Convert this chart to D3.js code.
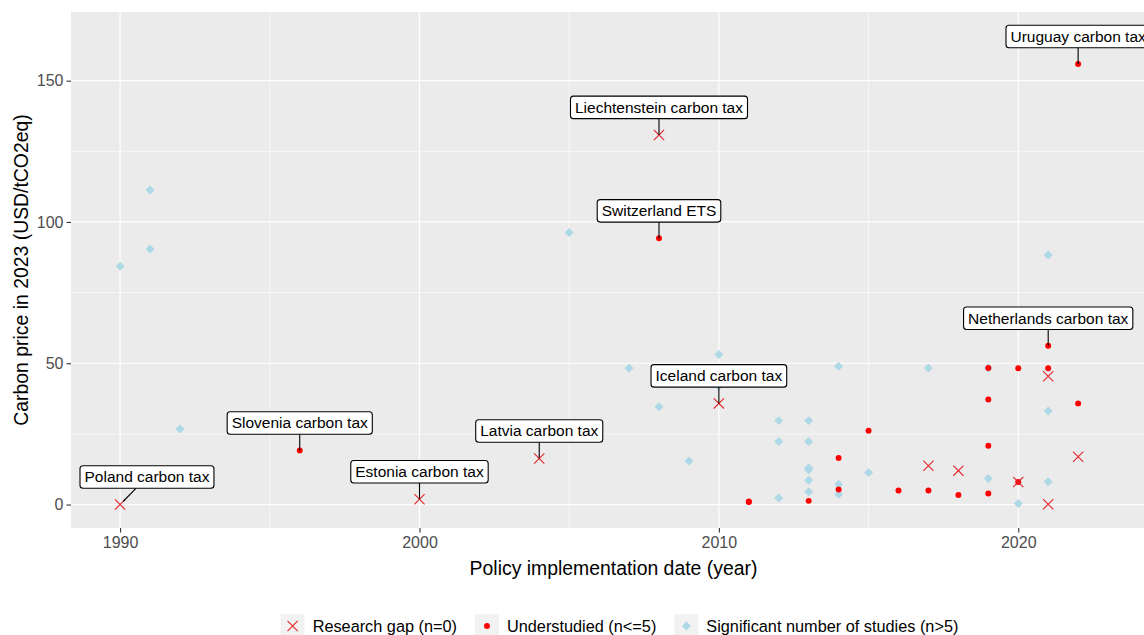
<!DOCTYPE html>
<html>
<head>
<meta charset="utf-8">
<script src="https://cdn.jsdelivr.net/npm/d3@7"></script>
<style>
  body { margin: 0; background: #fff; overflow: hidden; }
  text { font-family: "Liberation Sans", Arial, sans-serif; }
</style>
</head>
<body>
<svg width="1144" height="635"></svg>
<script>
// Research gap (n=0)
const gapYears  = [1990, 2000, 2004, 2008, 2010, 2017, 2018, 2020, 2021, 2021, 2022];
const gapPrices = [0, 1.9, 16.3, 130.8, 35.8, 13.7, 12.0, 8.0, 45.4, 0.1, 16.9];

// Understudied (n<=5)
const underYears  = [1996, 2008, 2011, 2011, 2013, 2014, 2014, 2015, 2016, 2017, 2018,
                     2019, 2019, 2019, 2019, 2020, 2020, 2021, 2021, 2022, 2022];
const underPrices = [19.1, 94.2, 1.1, 0.9, 1.3, 16.5, 5.3, 26.1, 5.0, 5.0, 3.4,
                     48.3, 37.2, 20.8, 3.9, 48.2, 8.0, 56.2, 48.2, 35.8, 155.9];

// Significant number of studies (n>5)
const sigYears  = [1990, 1991, 1991, 1992, 2005, 2007, 2008, 2009, 2010, 2010,
                   2012, 2012, 2012, 2013, 2013, 2013, 2013, 2013, 2013,
                   2014, 2014, 2014, 2015, 2017, 2019, 2019, 2020, 2021, 2021, 2021];
const sigPrices = [84.3, 111.3, 90.4, 26.7, 96.3, 48.2, 34.6, 15.4, 53.1, 41.9,
                   29.7, 22.3, 2.3, 29.7, 22.3, 13.0, 12.3, 8.6, 4.5,
                   48.9, 7.2, 3.6, 11.3, 48.3, 48.3, 9.2, 0.35, 88.3, 33.1, 8.1];

// labelled policies
const labelNames  = ["Poland carbon tax", "Slovenia carbon tax", "Estonia carbon tax",
                     "Latvia carbon tax", "Iceland carbon tax", "Liechtenstein carbon tax",
                     "Switzerland ETS", "Netherlands carbon tax", "Uruguay carbon tax"];
const labelYears  = [1990, 1996, 2000, 2004, 2010, 2008, 2008, 2021, 2022];
const labelPrices = [0, 19.1, 1.9, 16.3, 35.8, 130.8, 94.2, 56.2, 155.9];

const xTicks = [1990, 2000, 2010, 2020];
const yTicks = [0, 50, 100, 150];
const legendNames = ["Research gap (n=0)", "Understudied (n<=5)", "Significant number of studies (n>5)"];

const svg = d3.select("svg");

const panel = { left: 71, right: 1144, top: 12, bottom: 528 };

// prettier-ignore
const x = d3.scaleLinear()
    .domain([1988.36, 2024.2])
    .range([panel.left, panel.right])

// prettier-ignore
const y = d3.scaleLinear()
    .domain([-8.3, 174.3])
    .range([panel.bottom, panel.top])

svg.append("rect")
  .attr("x", panel.left).attr("y", panel.top)
  .attr("width", panel.right - panel.left + 40)
  .attr("height", panel.bottom - panel.top)
  .attr("fill", "#ebebeb");

const grid = svg.append("g");
const xMinor = [1995, 2005, 2015, 2025];
const yMinor = [25, 75, 125];
grid.selectAll(".xm").data(xMinor).join("line")
  .attr("x1", d => x(d)).attr("x2", d => x(d))
  .attr("y1", panel.top).attr("y2", panel.bottom)
  .attr("stroke", "#fff").attr("stroke-width", 0.6);
grid.selectAll(".ym").data(yMinor).join("line")
  .attr("y1", d => y(d)).attr("y2", d => y(d))
  .attr("x1", panel.left).attr("x2", panel.right + 40)
  .attr("stroke", "#fff").attr("stroke-width", 0.6);
grid.selectAll(".xM").data(xTicks).join("line")
  .attr("x1", d => x(d)).attr("x2", d => x(d))
  .attr("y1", panel.top).attr("y2", panel.bottom)
  .attr("stroke", "#fff").attr("stroke-width", 1.2);
grid.selectAll(".yM").data(yTicks).join("line")
  .attr("y1", d => y(d)).attr("y2", d => y(d))
  .attr("x1", panel.left).attr("x2", panel.right + 40)
  .attr("stroke", "#fff").attr("stroke-width", 1.2);

// axes
// prettier-ignore
const xAxis = d3.axisBottom(x)
    .tickValues(xTicks)
    .tickFormat(d3.format("d"))
    .tickSize(4.5)
    .tickPadding(4)
// prettier-ignore
const yAxis = d3.axisLeft(y)
    .tickValues(yTicks)
    .tickSize(4.5)
    .tickPadding(3)

const gx = svg.append("g").attr("transform", `translate(0,${panel.bottom})`).call(xAxis);
const gy = svg.append("g").attr("transform", `translate(${panel.left},0)`).call(yAxis);
[gx, gy].forEach(g => {
  g.select(".domain").remove();
  g.selectAll(".tick line").attr("stroke", "#333").attr("stroke-width", 1.1);
  g.selectAll(".tick text").attr("fill", "#4d4d4d").attr("font-size", 16)
    .attr("font-family", '"Liberation Sans", Arial, sans-serif');
});

svg.append("text")
  .attr("x", 613.5).attr("y", 575)
  .attr("text-anchor", "middle").attr("font-size", 19.4).attr("fill", "#000")
  .text("Policy implementation date (year)");
svg.append("text")
  .attr("transform", `translate(28,${(panel.top + panel.bottom) / 2}) rotate(-90)`)
  .attr("text-anchor", "middle").attr("font-size", 19.4).attr("fill", "#000")
  .text("Carbon price in 2023 (USD/tCO2eq)");

// marks
const diamond = d3.symbol(d3.symbolSquare, 40);
const dot = d3.symbol(d3.symbolCircle, 28);
const cross = d3.symbol(d3.symbolTimes, 70);

const marks = svg.append("g");
marks.selectAll(".sig").data(sigYears).join("path")
  .attr("d", diamond)
  .attr("transform", (d, i) => `translate(${x(d)},${y(sigPrices[i])}) rotate(45)`)
  .attr("fill", "#add8e6");
marks.selectAll(".under").data(underYears).join("path")
  .attr("d", dot)
  .attr("transform", (d, i) => `translate(${x(d)},${y(underPrices[i])})`)
  .attr("fill", "#ff0000");
marks.selectAll(".gap").data(gapYears).join("path")
  .attr("d", cross)
  .attr("transform", (d, i) => `translate(${x(d)},${y(gapPrices[i])})`)
  .attr("fill", "none").attr("stroke", "#e3262b").attr("stroke-width", 1.1);

// repel-style labels
const labels = svg.append("g");
const padX = 4.5, boxH = 22.5, lift = 27.5;
labelNames.forEach((name, i) => {
  const px = x(labelYears[i]), py = y(labelPrices[i]);
  const g = labels.append("g");
  const seg = g.append("line");
  const rect = g.append("rect");
  const t = g.append("text").text(name)
    .attr("font-size", 15.5).attr("fill", "#000")
    .attr("text-anchor", "middle").attr("dy", "0.35em");
  const w = t.node().getComputedTextLength() + 2 * padX;
  const cx = Math.max(px, panel.left + 9 + w / 2);
  const cy = py - lift;
  t.attr("x", cx).attr("y", cy);
  rect.attr("x", cx - w / 2).attr("y", cy - boxH / 2)
    .attr("width", w).attr("height", boxH)
    .attr("rx", 3).attr("ry", 3)
    .attr("fill", "#fff").attr("stroke", "#000").attr("stroke-width", 1.1);
  const by = cy + boxH / 2;
  const k = (py - by) / (py - cy);
  seg.attr("x1", px + (cx - px) * 0.12).attr("y1", py - (py - cy) * 0.12)
    .attr("x2", px + (cx - px) * k).attr("y2", by)
    .attr("stroke", "#000").attr("stroke-width", 1.1);
  if (cx === px) seg.attr("x1", px).attr("y1", py);
});

// legend
const legend = svg.append("g");
const keySize = 24, keyGap = 8, itemGap = 18, legendY = 626;
const keyShapes = [
  [cross, "none", "#e3262b", 0],
  [dot, "#ff0000", "none", 0],
  [diamond, "#add8e6", "none", 45]
];
const items = legendNames.map((name, i) => {
  const g = legend.append("g");
  g.append("rect").attr("width", keySize).attr("height", keySize)
    .attr("y", legendY - keySize / 2).attr("fill", "#f2f2f2");
  const [sym, fill, stroke, rot] = keyShapes[i];
  g.append("path").attr("d", sym)
    .attr("transform", `translate(${keySize / 2},${legendY}) rotate(${rot})`)
    .attr("fill", fill).attr("stroke", stroke).attr("stroke-width", 1.1);
  const t = g.append("text").text(name).attr("x", keySize + keyGap).attr("y", legendY)
    .attr("dy", "0.35em").attr("font-size", 16.3).attr("fill", "#000");
  return { g, w: keySize + keyGap + t.node().getComputedTextLength() };
});
const total = d3.sum(items, d => d.w) + itemGap * (items.length - 1);
let lx = 619.5 - total / 2;
items.forEach(it => {
  it.g.attr("transform", `translate(${lx},0)`);
  lx += it.w + itemGap;
});
</script>
</body>
</html>
